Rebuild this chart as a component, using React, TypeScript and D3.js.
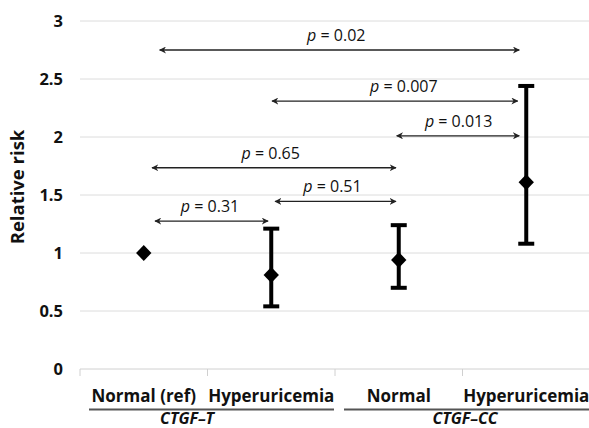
import React from "react";
import * as d3 from "d3";

const categories = ["Normal (ref)", "Hyperuricemia", "Normal", "Hyperuricemia"];
const estimates = [1.0, 0.81, 0.94, 1.61];
const ciLower = [null, 0.54, 0.7, 1.08];
const ciUpper = [null, 1.21, 1.24, 2.44];
const yTicks = [0, 0.5, 1, 1.5, 2, 2.5, 3];
const yTickLabels = ["0", "0.5", "1", "1.5", "2", "2.5", "3"];
const groups = [
  { name: "CTGF\u2013T", from: 0, to: 1, labelPos: 0.34 },
  { name: "CTGF\u2013CC", from: 2, to: 3, labelPos: 2.52 },
];
const compPValues = ["0.02", "0.007", "0.013", "0.65", "0.51", "0.31"];
const compY = [2.75, 2.31, 2.01, 1.735, 1.445, 1.275];
const compFrom = [0.125, 1.006, 1.984, 0.065, 1.03, 0.088];
const compTo = [2.945, 2.933, 2.945, 1.978, 1.978, 0.975];
const compLabelX = [1.51, 2.04, 2.47, 0.996, 1.48, 0.52];

const W = 589;
const H = 428;
const FONT = "'Open Sans', 'DejaVu Sans', sans-serif";

export default function App() {
  const x = d3.scaleLinear().domain([-0.5, 3.5]).range([80, 590]);
  const y = d3.scaleLinear().domain([0, 3]).range([369, 21]);
  const band = x(1) - x(0);
  const diamond = d3.symbol().type(d3.symbolDiamond2).size(150)();

  return (
    <svg width={W} height={H} style={{ position: "absolute", left: 0, top: 0, background: "#fff" }} fontFamily={FONT}>
      <defs>
        <marker id="arr" viewBox="0 0 10 10" refX="9" refY="5" markerWidth="7" markerHeight="7" markerUnits="userSpaceOnUse" orient="auto-start-reverse">
          <path d="M0,0 L10,5 L0,10 L3,5 Z" fill="#222" />
        </marker>
      </defs>
      <rect width={W} height={H} fill="#fff" />
      {/* gridlines */}
      {yTicks.map((t, i) => (
        <line key={"g" + i} x1={80} x2={590} y1={y(t)} y2={y(t)} stroke={t === 0 ? "#d0d0d0" : "#dcdcdc"} strokeWidth={1} />
      ))}
      {/* x tick marks */}
      {d3.range(0, 4).map((i) => (
        <line key={"t" + i} x1={x(i - 0.5)} x2={x(i - 0.5)} y1={369} y2={376} stroke="#d0d0d0" strokeWidth={1} />
      ))}
      {/* y tick labels */}
      {yTicks.map((t, i) => (
        <text key={"yl" + i} x={63} y={y(t)} dy="0.36em" textAnchor="end" fontSize={16.5} fontWeight="bold" fill="#111">
          {yTickLabels[i]}
        </text>
      ))}
      {/* y axis title */}
      <text transform={`translate(24,187) rotate(-90)`} textAnchor="middle" fontSize={18.5} fontWeight="bold" fill="#111">
        Relative risk
      </text>
      {/* category labels */}
      {categories.map((c, i) => (
        <text key={"c" + i} x={x(i)} y={402} textAnchor="middle" fontSize={17} fontWeight="bold" fill="#111">
          {c}
        </text>
      ))}
      {/* group lines and labels */}
      {groups.map((g, i) => (
        <g key={"gr" + i}>
          <line x1={x(g.from) - band / 2 + 9} x2={Math.min(x(g.to) + band / 2 - 1, 590)} y1={409.5} y2={409.5} stroke="#555" strokeWidth={2} />
          <text x={x(g.labelPos)} y={424} textAnchor="middle" fontSize={16} fontWeight="bold" fontStyle="italic" fill="#111">
            {g.name}
          </text>
        </g>
      ))}
      {/* error bars */}
      {estimates.map((e, i) =>
        ciLower[i] != null ? (
          <g key={"eb" + i} stroke="#000" strokeWidth={4}>
            <line x1={x(i)} x2={x(i)} y1={y(ciLower[i] as number)} y2={y(ciUpper[i] as number)} />
            <line x1={x(i) - 8} x2={x(i) + 8} y1={y(ciLower[i] as number)} y2={y(ciLower[i] as number)} />
            <line x1={x(i) - 8} x2={x(i) + 8} y1={y(ciUpper[i] as number)} y2={y(ciUpper[i] as number)} />
          </g>
        ) : null
      )}
      {/* points */}
      {estimates.map((e, i) => (
        <path key={"p" + i} d={diamond as string} transform={`translate(${x(i)},${y(e)}) scale(1,1.05)`} fill="#000" />
      ))}
      {/* comparison arrows */}
      {compY.map((v, i) => (
        <g key={"cmp" + i}>
          <line x1={x(compFrom[i])} x2={x(compTo[i])} y1={y(v)} y2={y(v)} stroke="#222" strokeWidth={1.3} markerStart="url(#arr)" markerEnd="url(#arr)" />
          <text x={x(compLabelX[i])} y={y(v) - 9} textAnchor="middle" fontSize={16} fill="#111">
            <tspan fontStyle="italic">p</tspan>
            {" = " + compPValues[i]}
          </text>
        </g>
      ))}
    </svg>
  );
}
